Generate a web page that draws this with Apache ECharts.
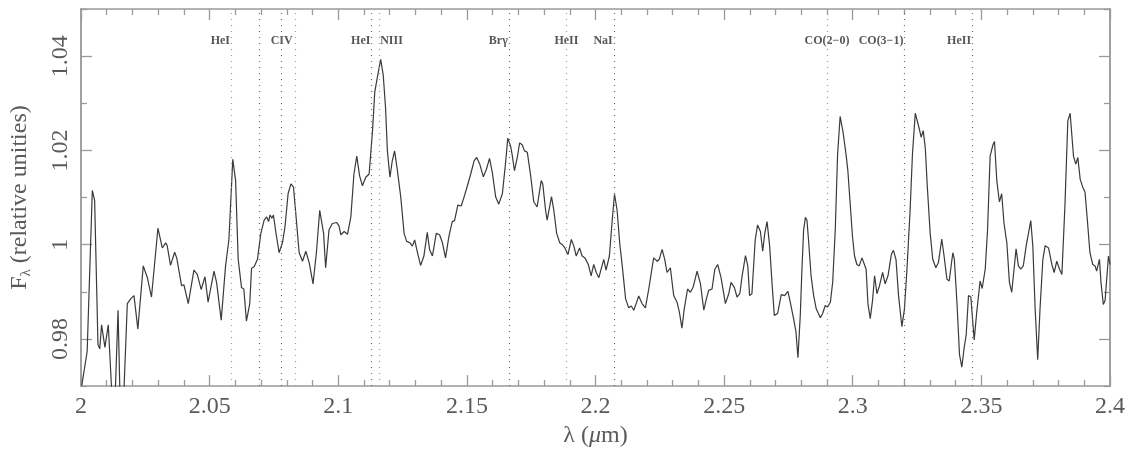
<!DOCTYPE html>
<html><head><meta charset="utf-8">
<script src="https://cdn.jsdelivr.net/npm/echarts@6/dist/echarts.min.js"></script>
<style>html,body{margin:0;padding:0;background:#fff}#c{width:1129px;height:453px}</style>
</head><body><div id="c"></div>
<script>
// Spectrum: wavelength (micron) and relative flux
const wavelength = [
2.0003,2.0024,2.0044,2.0053,2.0066,2.0073,2.0080,2.0093,2.0106,2.0128,2.0144,2.0154,2.0162,2.0180,2.0193,2.0206,2.0221,2.0242,2.0258,2.0264,
2.0274,2.0280,2.0299,2.0316,2.0329,2.0335,2.0348,2.0364,2.0372,2.0391,2.0400,2.0417,2.0439,2.0452,2.0467,2.0482,2.0494,2.0517,2.0527,2.0545,
2.0562,2.0575,2.0590,2.0601,2.0611,2.0624,2.0633,2.0643,2.0656,2.0663,2.0673,2.0686,2.0699,2.0712,2.0722,2.0729,2.0735,2.0742,2.0748,2.0757,
2.0770,2.0783,2.0793,2.0805,2.0816,2.0826,2.0835,2.0848,2.0861,2.0874,2.0887,2.0902,2.0915,2.0928,2.0935,2.0943,2.0951,2.0964,2.0977,2.0994,
2.1003,2.1010,2.1023,2.1036,2.1049,2.1061,2.1072,2.1083,2.1094,2.1107,2.1120,2.1133,2.1142,2.1152,2.1165,2.1175,2.1184,2.1191,2.1201,2.1210,
2.1219,2.1230,2.1243,2.1256,2.1266,2.1279,2.1288,2.1297,2.1308,2.1320,2.1333,2.1346,2.1355,2.1366,2.1381,2.1394,2.1405,2.1417,2.1430,2.1443,
2.1452,2.1465,2.1478,2.1489,2.1502,2.1515,2.1528,2.1538,2.1550,2.1564,2.1576,2.1588,2.1599,2.1612,2.1624,2.1638,2.1650,2.1659,2.1670,2.1676,
2.1685,2.1696,2.1705,2.1715,2.1724,2.1735,2.1748,2.1760,2.1773,2.1789,2.1795,2.1806,2.1812,2.1829,2.1838,2.1849,2.1861,2.1871,2.1881,2.1893,
2.1906,2.1916,2.1925,2.1938,2.1948,2.1959,2.1972,2.1983,2.1993,2.2003,2.2013,2.2032,2.2041,2.2054,2.2065,2.2074,2.2084,2.2094,2.2104,2.2117,
2.2129,2.2139,2.2149,2.2158,2.2168,2.2181,2.2194,2.2207,2.2226,2.2240,2.2248,2.2259,2.2269,2.2278,2.2291,2.2304,2.2317,2.2326,2.2336,2.2345,
2.2358,2.2369,2.2379,2.2395,2.2408,2.2421,2.2431,2.2440,2.2453,2.2464,2.2475,2.2488,2.2505,2.2518,2.2527,2.2540,2.2550,2.2561,2.2570,2.2583,
2.2592,2.2599,2.2608,2.2621,2.2630,2.2641,2.2650,2.2658,2.2667,2.2677,2.2686,2.2695,2.2708,2.2722,2.2735,2.2748,2.2757,2.2770,2.2779,2.2787,
2.2796,2.2802,2.2809,2.2816,2.2822,2.2828,2.2838,2.2848,2.2858,2.2865,2.2874,2.2883,2.2893,2.2902,2.2913,2.2922,2.2932,2.2941,2.2951,2.2962,
2.2974,2.2981,2.2990,2.2999,2.3007,2.3016,2.3025,2.3036,2.3042,2.3052,2.3059,2.3068,2.3077,2.3085,2.3094,2.3104,2.3116,2.3126,2.3137,2.3150,
2.3158,2.3168,2.3178,2.3191,2.3201,2.3210,2.3223,2.3232,2.3243,2.3249,2.3258,2.3266,2.3274,2.3282,2.3290,2.3301,2.3311,2.3323,2.3333,2.3346,
2.3355,2.3366,2.3375,2.3389,2.3395,2.3405,2.3415,2.3424,2.3433,2.3441,2.3450,2.3459,2.3472,2.3482,2.3495,2.3503,2.3515,2.3524,2.3534,2.3545,
2.3551,2.3560,2.3570,2.3579,2.3588,2.3599,2.3609,2.3618,2.3627,2.3635,2.3644,2.3653,2.3663,2.3674,2.3683,2.3692,2.3700,2.3709,2.3719,2.3728,
2.3739,2.3748,2.3761,2.3774,2.3783,2.3793,2.3804,2.3813,2.3825,2.3836,2.3845,2.3858,2.3867,2.3875,2.3884,2.3894,2.3903,2.3912,2.3922,2.3933,
2.3942,2.3948,2.3959,2.3965,2.3974,2.3981,2.3994,2.4000
];
const flux = [
0.9701,0.9774,1.0115,1.0094,0.9788,0.9779,0.9830,0.9782,0.9830,0.9600,0.9861,0.9620,0.9620,0.9875,0.9885,0.9892,0.9821,0.9955,0.9930,0.9927,
0.9889,0.9885,1.0035,0.9993,1.0004,0.9998,0.9956,0.9984,0.9972,0.9913,0.9915,0.9875,0.9946,0.9937,0.9905,0.9932,0.9878,0.9944,0.9920,0.9840,
0.9955,1.0011,1.0181,1.0136,0.9969,0.9909,0.9906,0.9838,0.9875,0.9950,0.9953,0.9969,1.0024,1.0052,1.0059,1.0049,1.0063,1.0056,1.0063,1.0028,
0.9983,1.0004,1.0038,1.0108,1.0129,1.0122,1.0066,0.9983,0.9965,0.9986,0.9962,0.9917,0.9983,1.0073,1.0077,1.0024,0.9951,1.0031,1.0045,1.0047,
1.0040,1.0021,1.0028,1.0022,1.0059,1.0150,1.0188,1.0146,1.0125,1.0143,1.0150,1.0240,1.0324,1.0355,1.0393,1.0359,1.0289,1.0199,1.0143,1.0178,
1.0199,1.0157,1.0101,1.0024,1.0007,1.0004,0.9997,1.0010,0.9983,0.9956,0.9976,1.0026,0.9990,0.9976,1.0024,1.0021,1.0004,0.9972,1.0017,1.0049,
1.0051,1.0084,1.0082,1.0101,1.0125,1.0150,1.0178,1.0185,1.0171,1.0144,1.0160,1.0183,1.0153,1.0101,1.0086,1.0108,1.0171,1.0226,1.0209,1.0191,
1.0157,1.0185,1.0216,1.0212,1.0199,1.0196,1.0146,1.0091,1.0080,1.0136,1.0129,1.0073,1.0052,1.0102,1.0073,1.0024,1.0004,1.0000,0.9993,0.9979,
1.0011,0.9997,0.9976,0.9993,0.9976,0.9972,0.9958,0.9934,0.9958,0.9941,0.9930,0.9969,0.9946,0.9976,1.0052,1.0107,1.0073,1.0004,0.9955,0.9885,
0.9866,0.9870,0.9861,0.9875,0.9891,0.9875,0.9866,0.9906,0.9972,0.9965,0.9969,0.9990,0.9969,0.9941,0.9951,0.9892,0.9878,0.9857,0.9823,0.9864,
0.9906,0.9899,0.9909,0.9944,0.9917,0.9861,0.9885,0.9903,0.9906,0.9948,0.9958,0.9930,0.9875,0.9896,0.9920,0.9909,0.9889,0.9896,0.9934,0.9977,
0.9955,0.9892,0.9896,1.0011,1.0042,1.0028,0.9986,1.0024,1.0049,0.9997,0.9920,0.9850,0.9854,0.9894,0.9892,0.9901,0.9878,0.9843,0.9816,0.9760,
0.9850,0.9941,1.0031,1.0058,1.0052,1.0011,0.9934,0.9892,0.9864,0.9861,0.9845,0.9854,0.9871,0.9868,0.9878,0.9920,1.0031,1.0191,1.0272,1.0240,
1.0191,1.0157,1.0087,1.0017,0.9976,0.9958,0.9955,0.9972,0.9969,0.9948,0.9875,0.9843,0.9882,0.9934,0.9896,0.9913,0.9941,0.9917,0.9934,0.9979,
0.9988,0.9969,0.9892,0.9826,0.9864,0.9941,1.0073,1.0191,1.0279,1.0283,1.0247,1.0228,1.0242,1.0205,1.0122,1.0024,0.9969,0.9951,0.9962,1.0012,
0.9976,0.9927,0.9923,0.9983,0.9969,0.9878,0.9767,0.9740,0.9781,0.9809,0.9892,0.9889,0.9798,0.9857,0.9923,0.9907,0.9948,1.0031,1.0188,1.0212,
1.0219,1.0136,1.0091,1.0108,1.0045,1.0004,0.9920,0.9899,0.9948,0.9991,0.9955,0.9948,0.9955,0.9997,1.0024,1.0051,0.9997,0.9864,0.9756,0.9864,
0.9969,0.9998,0.9993,0.9958,0.9941,0.9965,0.9948,0.9937,1.0085,1.0262,1.0279,1.0188,1.0171,1.0185,1.0139,1.0122,1.0111,1.0052,0.9983,0.9958,
0.9955,0.9944,0.9969,0.9920,0.9873,0.9882,0.9976,0.9958
];
// Identified lines (dotted markers)
const lineWavelengths = [2.0583, 2.0692, 2.0780, 2.0831, 2.1129, 2.1159, 2.1663, 2.1887, 2.2071, 2.2900, 2.3201, 2.3464];
// Line labels
const labelTexts = ['HeI', 'CIV', 'HeI', 'NIII', 'Br\u03b3', 'HeII', 'NaI', 'CO(2\u22120)', 'CO(3\u22121)', 'HeII'];
const labelWavelengths = [2.0583, 2.0780, 2.1129, 2.1159, 2.1663, 2.1887, 2.2071, 2.2900, 2.3201, 2.3464];
// Tick values
const yMajorTicks = [0.98, 1, 1.02, 1.04];
const yMinorTicks = [0.97, 0.99, 1.01, 1.03, 1.05];

// ---- styling (not data) ----
const lineTint = ['g','d','d','g','d','g','d','g','d','g','d','d'];
const labelSide = ['left','inside','left','right','left','inside','left','inside','left','left'];
const LABEL_Y = 1.0432;
const FRAME = '#9a9a9a';
const SERIF = '"Liberation Serif", "DejaVu Serif", serif';

const chart = echarts.init(document.getElementById('c'), null, {renderer: 'canvas'});

const spectrum = wavelength.map((w, i) => [w, flux[i]]);

function yAx(pos, major, showLabel) {
  return {
    type: 'value', position: pos, min: 0.97, max: 1.05,
    axisLine: {show: true, onZero: false, lineStyle: {color: FRAME, width: 1.5}},
    splitLine: {show: false},
    axisTick: {show: true, inside: true, length: major ? 11 : 6,
      customValues: major ? yMajorTicks : yMinorTicks,
      lineStyle: {color: FRAME, width: 1.3}},
    axisLabel: showLabel ? {show: true, customValues: yMajorTicks, rotate: 90, margin: 8,
      fontFamily: SERIF, fontSize: 24, color: '#5a5a5a',
      formatter: v => String(+v.toFixed(2))} : {show: false}
  };
}
function xAx(pos, showLabel) {
  return {
    type: 'value', position: pos, min: 2, max: 2.4, interval: 0.05,
    axisLine: {show: true, onZero: false, lineStyle: {color: FRAME, width: 1.5}},
    splitLine: {show: false},
    axisTick: {show: true, inside: true, length: 11, lineStyle: {color: FRAME, width: 1.3}},
    minorTick: {show: true, splitNumber: 5, length: 6, lineStyle: {color: FRAME, width: 1.3}},
    axisLabel: showLabel ? {show: true, margin: 9, fontFamily: SERIF, fontSize: 24, color: '#5a5a5a',
      formatter: v => String(+v.toFixed(2)),
      showMinLabel: true, showMaxLabel: true} : {show: false}
  };
}

const xMain = xAx('bottom', true);
xMain.name = '{a|\u03bb (}{i|\u03bc}{a|m)}';
xMain.nameLocation = 'middle';
xMain.nameGap = 33;
xMain.nameTextStyle = {rich: {
  a: {fontFamily: SERIF, fontSize: 24, color: '#5a5a5a'},
  i: {fontFamily: SERIF, fontSize: 24, fontStyle: 'italic', color: '#5a5a5a'}
}};

const yMain = yAx('left', true, true);
yMain.name = '{f|F}{s|\u03bb}{f| (relative unities)}';
yMain.nameLocation = 'middle';
yMain.nameRotate = 90;
yMain.nameGap = 47;
yMain.nameTextStyle = {rich: {
  f: {fontFamily: SERIF, fontSize: 24, color: '#5a5a5a', lineHeight: 28},
  s: {fontFamily: SERIF, fontSize: 15, color: '#5a5a5a', lineHeight: 12, verticalAlign: 'bottom'}
}};

const option = {
  animation: false,
  backgroundColor: '#ffffff',
  grid: {left: 80, right: 19, top: 9, bottom: 61, containLabel: false},
  xAxis: [xMain, xAx('top', false)],
  yAxis: [yMain, yAx('left', false, false), yAx('right', true, false), yAx('right', false, false)],
  series: [
    {
      type: 'line', xAxisIndex: 0, yAxisIndex: 0, data: spectrum,
      showSymbol: false, symbol: 'none', clip: true,
      lineStyle: {color: '#3a3a3a', width: 1.2},
      z: 3,
      markLine: {
        silent: true, symbol: ['none', 'none'], precision: 5,
        label: {show: false},
        data: lineWavelengths.map((w, i) => ({
          xAxis: w,
          lineStyle: {type: [1, 5], width: 1.2,
            color: lineTint[i] === 'g' ? '#8ea88e' : '#6a6a6a'}
        }))
      }
    },
    {
      type: 'scatter', xAxisIndex: 0, yAxisIndex: 0, symbolSize: 0, silent: true, z: 4,
      data: labelWavelengths.map((w, i) => ({
        value: [w, LABEL_Y],
        label: {show: true, formatter: labelTexts[i], position: labelSide[i], distance: 1,
          fontFamily: SERIF, fontSize: 12, fontWeight: 'bold', color: '#2a2a2a'}
      }))
    }
  ]
};
chart.setOption(option);
</script></body></html>
